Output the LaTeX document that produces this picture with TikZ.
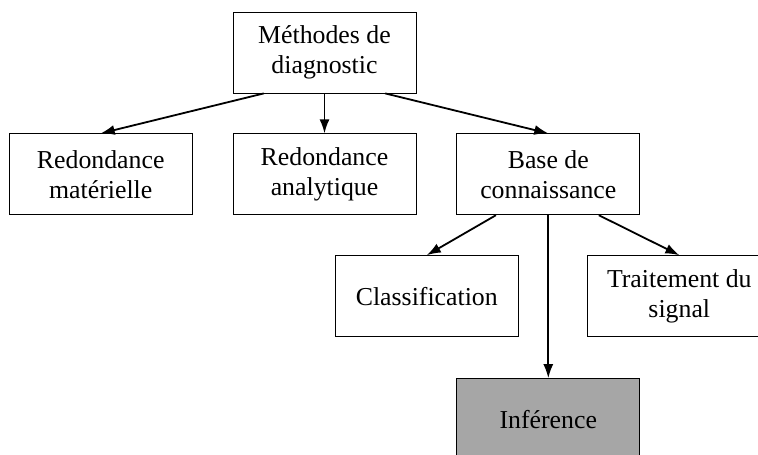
\documentclass[tikz,border=0pt]{standalone}
\usepackage{fontspec}
\setmainfont{Liberation Serif}
\usepackage{tikz}
\usetikzlibrary{positioning, arrows.meta}
\definecolor{infgray}{RGB}{166,166,166}

\begin{document}
\begin{tikzpicture}[node distance=40pt,
		box/.style={draw, line width=0.8pt, minimum width=183pt, minimum height=81pt,
			inner sep=0pt, align=center, font=\fontsize{25.8}{30}\selectfont},
		link/.style={draw, line width=1.8pt, -{Latex[length=14pt,width=10pt]}}]
		\useasboundingbox (0,0) rectangle (758pt,455pt);
		\clip (0,0) rectangle (758pt,455pt);
		\node[box] (meth) at (324.5pt,402.5pt) {Méthodes de\\diagnostic};
		\node[box, below=of meth] (ana) {Redondance\\analytique};
		\node[box, left=of ana] (mat) {Redondance\\matérielle};
		\node[box, right=of ana] (base) {Base de\\connaissance};
		\node[box, below=of base, xshift=-121.5pt] (classif) {Classification};
		\node[box, below=of base, xshift=131pt] (signal) {Traitement du\\signal};
		\node[box, fill=infgray, below=163pt of base] (inf) {Inférence};
		\draw[link] (meth.214) -- (mat.north);
		\draw[link] (meth) -- (ana);
		\draw[link] (meth.326) -- (base.north);
		\draw[link] (base.218) -- (classif.north);
		\draw[link] (base.321) -- (signal.north);
		\draw[link] (base) -- (inf);
	\end{tikzpicture}
\end{document}
